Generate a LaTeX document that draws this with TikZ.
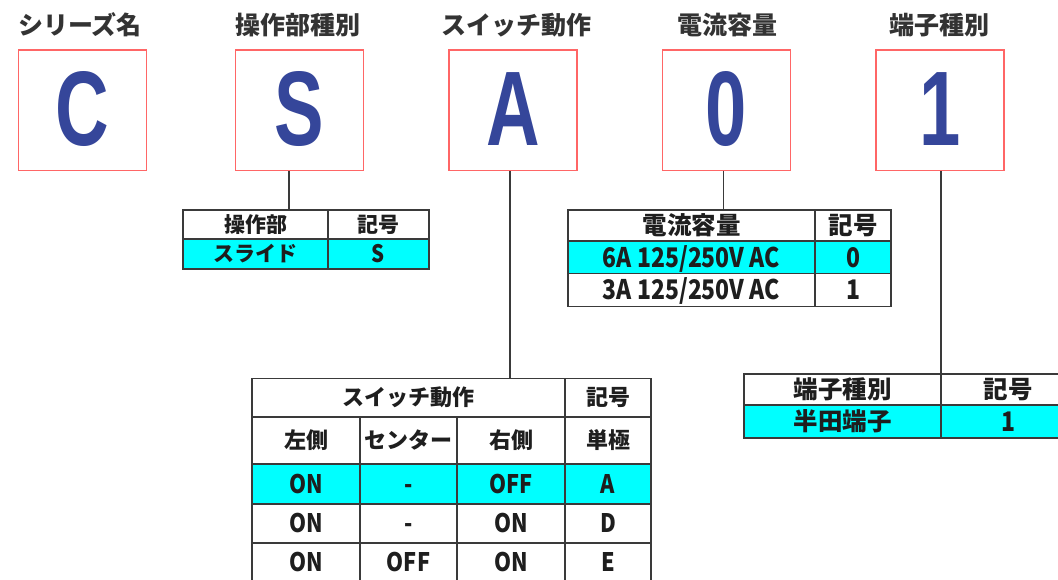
\documentclass[tikz,border=0pt]{standalone}
\usepackage{fontspec}
\newfontfamily\jp{Noto Sans CJK JP}
\newfontfamily\ltrfont{Liberation Sans}
\definecolor{redB}{RGB}{255,102,102}
\definecolor{blueL}{RGB}{53,70,154}
\definecolor{titleC}{RGB}{51,51,51}
\definecolor{lineC}{RGB}{58,58,58}
\definecolor{txtC}{RGB}{30,30,30}
\definecolor{cyanC}{RGB}{0,255,255}
\newcommand\nx[1]{\scalebox{0.85}[1]{#1}}
\newcommand\codeltr[1]{\scalebox{0.7}[1]{#1}}
\begin{document}
\begin{tikzpicture}[x=1pt,y=-1pt,
  codebox/.style={draw=redB, line width=1.5pt, minimum width=128pt, minimum height=120.5pt, inner sep=0pt, text=blueL, font={\ltrfont\bfseries\fontsize{106}{106}\selectfont}, text height=76pt, text depth=5pt},
  ttl/.style={font={\jp\bfseries\fontsize{25}{25}\selectfont}, text=titleC, anchor=base, inner sep=0pt},
  cellbase/.style={draw=lineC, line width=1.6pt, inner sep=0pt, text=txtC, fill=white},
  ca/.style={cellbase, font={\jp\bfseries\fontsize{21}{21}\selectfont}, text height=15.5pt, text depth=0pt},
  cal/.style={cellbase, font={\jp\bfseries\fontsize{24}{24}\selectfont}, text height=17.6pt, text depth=0pt},
  cb/.style={cellbase, font={\jp\bfseries\fontsize{24.5}{24.5}\selectfont}, text height=18pt, text depth=0pt},
  cc/.style={cellbase, font={\jp\bfseries\fontsize{22}{22}\selectfont}, text height=16.3pt, text depth=0pt},
  lat/.style={cellbase, font={\jp\bfseries\fontsize{27}{27}\selectfont}, text height=19.8pt, text depth=0pt},
  latc/.style={cellbase, font={\jp\bfseries\fontsize{25.5}{25.5}\selectfont}, text height=18.7pt, text depth=0pt},
  hl/.style={fill=cyanC},
  conn/.style={draw=lineC, line width=1.6pt}]
\useasboundingbox[fill=white] (0,0) rectangle (1058,579);

% code boxes
\node[codebox] (bC) at (82.5,110) {\codeltr{C}};
\node[codebox] (bS) at (299.5,110) {\codeltr{S}};
\node[codebox] (bA) at (513,110) {\codeltr{A}};
\node[codebox] (b0) at (726.5,110) {\codeltr{0}};
\node[codebox] (b1) at (940,110) {\codeltr{1}};

% titles
\node[ttl] (tC) at (80,34) {シリーズ名};
\node[ttl] (tS) at (298,34) {操作部種別};
\node[ttl] (tA) at (516,34) {スイッチ動作};
\node[ttl] (t0) at (727,34) {電流容量};
\node[ttl] (t1) at (939,34) {端子種別};

% table 1
\node[ca, minimum width=145pt, minimum height=29pt] (t1h1) at (255.5,224.5) {操作部};
\node[ca, minimum width=101pt, minimum height=29pt] (t1h2) at (378.5,224.5) {記号};
\node[ca, hl, minimum width=145pt, minimum height=30pt] (t1d1) at (255.5,254) {スライド};
\node[cal, hl, minimum width=101pt, minimum height=30pt] (t1d2) at (378.5,254) {\nx{S}};
\draw[conn] ([xshift=-10.5pt]bS.south) -- ([xshift=-10.5pt]bS.south |- t1h1.north);

% table 2
\node[cb, minimum width=247pt, minimum height=31pt] (t2h1) at (691.5,225.5) {電流容量};
\node[cb, minimum width=76pt, minimum height=31pt] (t2h2) at (853,225.5) {記号};
\node[lat, hl, minimum width=247pt, minimum height=32.5pt] (t2a1) at (691.5,257.25) {\nx{6A 125/250V AC}};
\node[lat, hl, minimum width=76pt, minimum height=32.5pt] (t2a2) at (853,257.25) {\nx{0}};
\node[lat, minimum width=247pt, minimum height=33pt] (t2b1) at (691.5,290) {\nx{3A 125/250V AC}};
\node[lat, minimum width=76pt, minimum height=33pt] (t2b2) at (853,290) {\nx{1}};
\draw[conn] ([xshift=-3pt]b0.south) -- ([xshift=-3pt]b0.south |- t2h1.north);

% table 3
\node[cc, minimum width=313pt, minimum height=38.5pt] (t3h1) at (408.5,397.75) {スイッチ動作};
\node[cc, minimum width=86pt, minimum height=38.5pt] (t3h2) at (608,397.75) {記号};
\node[cc, minimum width=108pt, minimum height=47pt] (t3s1) at (306,440.5) {左側};
\node[cc, minimum width=97pt, minimum height=47pt] (t3s2) at (408.5,440.5) {センター};
\node[cc, minimum width=108pt, minimum height=47pt] (t3s3) at (511,440.5) {右側};
\node[cc, minimum width=86pt, minimum height=47pt] (t3s4) at (608,440.5) {単極};
\node[latc, hl, minimum width=108pt, minimum height=40pt] (t3a1) at (306,484) {\nx{ON}};
\node[latc, hl, minimum width=97pt, minimum height=40pt] (t3a2) at (408.5,484) {\nx{-}};
\node[latc, hl, minimum width=108pt, minimum height=40pt] (t3a3) at (511,484) {\nx{OFF}};
\node[latc, hl, minimum width=86pt, minimum height=40pt] (t3a4) at (608,484) {\nx{A}};
\node[latc, minimum width=108pt, minimum height=39pt] (t3b1) at (306,523.5) {\nx{ON}};
\node[latc, minimum width=97pt, minimum height=39pt] (t3b2) at (408.5,523.5) {\nx{-}};
\node[latc, minimum width=108pt, minimum height=39pt] (t3b3) at (511,523.5) {\nx{ON}};
\node[latc, minimum width=86pt, minimum height=39pt] (t3b4) at (608,523.5) {\nx{D}};
\node[latc, minimum width=108pt, minimum height=39pt] (t3c1) at (306,562.5) {\nx{ON}};
\node[latc, minimum width=97pt, minimum height=39pt] (t3c2) at (408.5,562.5) {\nx{OFF}};
\node[latc, minimum width=108pt, minimum height=39pt] (t3c3) at (511,562.5) {\nx{ON}};
\node[latc, minimum width=86pt, minimum height=39pt] (t3c4) at (608,562.5) {\nx{E}};
\draw[conn] ([xshift=-3pt]bA.south) -- ([xshift=-3pt]bA.south |- t3h1.north);

% table 4
\node[cb, minimum width=197pt, minimum height=31pt] (t4h1) at (842.5,389.5) {端子種別};
\node[cb, minimum width=134pt, minimum height=31pt] (t4h2) at (1008,389.5) {記号};
\node[cb, hl, minimum width=197pt, minimum height=33pt] (t4d1) at (842.5,421.5) {半田端子};
\node[lat, hl, minimum width=134pt, minimum height=33pt] (t4d2) at (1008,421.5) {\nx{1}};
\draw[conn] ([xshift=1pt]b1.south) -- ([xshift=1pt]b1.south |- t4h1.north);
\end{tikzpicture}
\end{document}
